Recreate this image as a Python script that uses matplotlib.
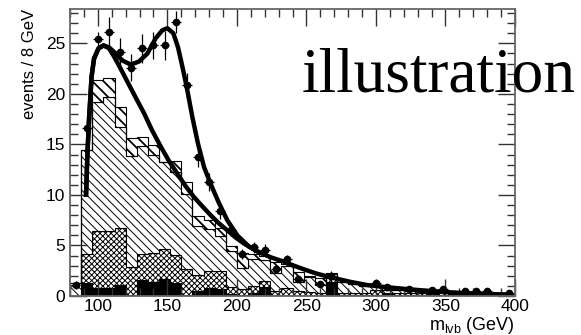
import numpy as np
import matplotlib
matplotlib.use("Agg")
from matplotlib import pyplot as plt
from matplotlib.ticker import MultipleLocator

# bins: 8 GeV wide, 80..400
edges = np.arange(80, 401, 8)

# stacked histogram, cumulative top of each layer (read per bin)
black_top = [0.0, 1.3, 0.8, 0.8, 1.1, 0.1, 1.6, 1.4, 1.7, 1.3,
             0.1, 0.5, 0.8, 0.7, 0.2, 0.1, 0.3, 0.9, 0.0, 0.0,
             0.0, 0.0, 0.0, 1.4, 0.1, 0.1, 0.1, 0.1, 0.2, 0.1,
             0.1, 0.1, 0.2, 0.1, 0.1, 0.1, 0.1, 0.1, 0.1, 0.1]
brick_top = [0.0, 4.2, 6.4, 6.4, 6.7, 2.9, 4.2, 4.3, 4.7, 4.1,
             2.7, 2.1, 2.5, 2.5, 0.9, 0.7, 1.0, 1.5, 0.5, 0.75,
             0.5, 0.4, 0.3, 1.85, 0.3, 0.25, 0.3, 0.6, 0.3, 0.3,
             0.25, 0.3, 0.3, 0.25, 0.2, 0.2, 0.2, 0.15, 0.15, 0.15]
main_top = [1.3, 14.4, 19.2, 19.7, 16.7, 13.9, 14.8, 14.0, 13.3, 12.3,
            10.1, 6.9, 6.6, 5.9, 4.5, 2.8, 3.7, 3.6, 2.3, 3.0,
            1.4, 1.9, 1.1, 2.2, 1.4, 1.2, 1.0, 1.0, 0.6, 0.55,
            0.45, 0.4, 0.35, 0.4, 0.3, 0.3, 0.25, 0.25, 0.2, 0.2]
total_top = [1.3, 14.4, 21.4, 21.6, 18.7, 15.6, 15.7, 14.9, 13.3, 13.4,
             11.3, 7.9, 7.5, 6.7, 4.9, 4.3, 4.2, 4.0, 3.4, 3.2,
             2.4, 2.0, 1.8, 2.3, 1.4, 1.2, 1.0, 1.0, 0.6, 0.55,
             0.45, 0.4, 0.35, 0.4, 0.3, 0.3, 0.25, 0.25, 0.2, 0.2]

# data points
data_x = [84, 92, 100, 108, 116, 124, 132, 140, 148, 156, 164, 172, 180,
          188, 196, 204, 212, 220, 228, 236, 244, 260, 268, 300, 308, 324,
          340, 348, 364, 372, 380, 396]
data_y = [1.1, 16.6, 25.4, 26.1, 24.1, 22.6, 24.5, 24.8, 24.8, 27.1, 20.9,
          13.8, 11.3, 8.4, 6.5, 4.2, 4.8, 4.6, 2.7, 3.7, 1.7, 1.2, 2.0, 1.25,
          0.85, 0.66, 0.6, 0.66, 0.5, 0.5, 0.5, 0.3]
data_err = [0.4, 1.2, 0.7, 1.5, 1.4, 1.3, 1.4, 1.3, 1.4, 1.1, 1.2,
            1.0, 0.9, 0.8, 0.6, 0.5, 0.5, 0.5, 0.4, 0.4, 0.3, 0.3, 0.5, 0.2,
            0.2, 0.15, 0.15, 0.15, 0.1, 0.1, 0.1, 0.1]

# fit curves
total_x = [91.5, 92.5, 93.8, 95.5, 97.3, 100.5, 104.1, 108.1, 112.9, 117.7,
           123.7, 129.6, 135.7, 141.6, 146.4, 150.0, 154.3, 157.7, 160.8,
           163.9, 168.0, 172.0, 176.3, 181.1, 187.1, 193.1, 200.3, 208.6,
           216.3, 225.0, 233.7, 241.0, 249.0, 257.7, 269.0, 281.6, 293.0,
           305.5, 317.0, 329.5, 341.0, 353.0, 365.0, 377.0, 388.0, 398.6]
total_y = [9.8, 14.0, 17.7, 21.7, 23.5, 24.5, 24.8, 24.6, 24.0, 23.3,
           22.9, 23.2, 24.0, 25.5, 26.3, 26.5, 26.0, 24.6, 22.7,
           20.7, 17.7, 15.1, 12.8, 11.1, 9.2, 7.5, 6.0, 4.9,
           4.3, 3.8, 3.4, 3.0, 2.6, 2.2, 1.8, 1.4, 1.1,
           0.9, 0.75, 0.6, 0.48, 0.37, 0.28, 0.2, 0.17, 0.15]
bkg_x = [91.5, 92.5, 93.8, 95.5, 97.3, 100.5, 104.1, 108.1, 111.7, 116.0,
         121.3, 127.0, 133.2, 139.0, 145.2, 151.0, 157.2, 163.0, 169.1,
         175.0, 181.1, 187.0, 193.1, 199.0, 205.0, 210.0, 216.3]
bkg_y = [9.8, 14.0, 17.7, 21.7, 23.5, 24.5, 24.8, 24.5, 23.7, 22.6,
         21.2, 19.7, 18.1, 16.4, 14.8, 13.4, 12.1, 10.9, 9.8,
         8.9, 8.0, 7.2, 6.5, 5.8, 5.2, 4.8, 4.3]

plt.rcParams["font.family"] = ["Liberation Sans", "DejaVu Sans"]
plt.rcParams["hatch.linewidth"] = 0.7

fig = plt.figure(figsize=(5.81, 3.35), dpi=100)
ax = fig.add_axes([70 / 581, 1 - 296 / 335, 445 / 581, 287 / 335])

ax.stairs(black_top, edges, baseline=0, fill=True, facecolor="black",
          edgecolor="black", linewidth=0.8)
ax.stairs(brick_top, edges, baseline=black_top, fill=True, facecolor="white",
          edgecolor="black", hatch="xxxxxx", linewidth=0.8)
ax.stairs(main_top, edges, baseline=brick_top, fill=True, facecolor="white",
          edgecolor="black", hatch="\\\\\\\\", linewidth=0.8)
with plt.rc_context({"hatch.linewidth": 1.3}):
    ax.stairs(total_top, edges, baseline=main_top, fill=True,
              facecolor="white", edgecolor="black", hatch="\\\\\\",
              linewidth=0.8)

ax.plot(bkg_x, bkg_y, color="black", lw=3.2, solid_capstyle="butt")
ax.plot(total_x, total_y, color="black", lw=3.2, solid_capstyle="butt")

ax.errorbar(data_x, data_y, yerr=data_err, xerr=3.5, fmt="o", color="black",
            ms=4.5, elinewidth=0.9, capsize=0)

ax.set_xlim(80, 400)
ax.set_ylim(0, 28.4)
ax.xaxis.set_major_locator(MultipleLocator(50))
ax.xaxis.set_minor_locator(MultipleLocator(10))
ax.yaxis.set_major_locator(MultipleLocator(5))
ax.yaxis.set_minor_locator(MultipleLocator(1))
ax.tick_params(which="both", direction="in", top=True, right=True,
               labelsize=12.5, color="#333333")
ax.tick_params(axis="x", pad=2)
ax.tick_params(which="major", length=12, width=1)
ax.tick_params(which="minor", length=6, width=1)
for s in ax.spines.values():
    s.set_color("#666666")
    s.set_linewidth(1.3)

ax.set_ylabel("events / 8 GeV", fontsize=12, loc="top", labelpad=6)
ax.set_xlabel(r"m$_{\mathregular{lvb}}$ (GeV)", fontsize=13, loc="right",
              labelpad=1)

fig.text(302 / 581, 1 - 92 / 335, "illustration", family="Liberation Serif",
         fontsize=45.5, va="baseline", ha="left")

fig.savefig("out.png", dpi=100)
